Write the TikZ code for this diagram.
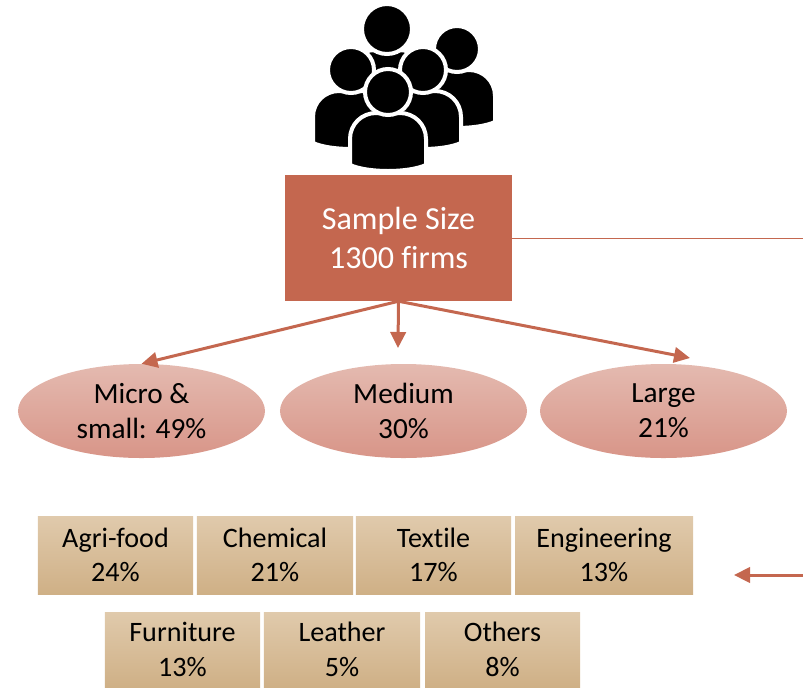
\documentclass[tikz,border=0pt]{standalone}
\usepackage{fontspec}
\setmainfont[Ligatures=NoCommon]{Carlito}
\usetikzlibrary{arrows.meta,shapes.geometric}
\definecolor{rust}{HTML}{C4674F}
\definecolor{ellipsetop}{HTML}{E4BAB0}
\definecolor{ellipsebottom}{HTML}{D89588}
\definecolor{boxtop}{HTML}{E0CAAC}
\definecolor{boxbottom}{HTML}{CFB086}
\tikzset{
	person/.pic={
			\draw[fill=black,draw=white,line width=0.12cm] (-38,73) -- (-38,47) .. controls (-38,32) and (-26,21) .. (-12,21) -- (12,21) .. controls (26,21) and (38,32) .. (38,47) -- (38,73) .. controls (20,81) and (-20,81) .. cycle;
			\draw[fill=black,draw=white,line width=0.12cm] (0,0) circle (#1);
		},
	sizebox/.style={ellipse,minimum width=7.41cm,minimum height=2.82cm,inner sep=0pt,top color=ellipsetop,bottom color=ellipsebottom,align=center,font=\fontsize{25}{30}\selectfont},
	sectorbox/.style={rectangle,minimum height=2.34cm,inner sep=0pt,top color=boxtop,bottom color=boxbottom,align=center,font=\fontsize{24}{29.5}\selectfont},
	thinlink/.style={rust,line width=0.03cm},
	thicklink/.style={rust,line width=0.09cm,-{Triangle[length=0.48cm,width=0.46cm]}}
}
\begin{document}
\begin{tikzpicture}[x=0.03cm,y=-0.03cm]
	\useasboundingbox (0,0) rectangle (803,687);

	\pic at (387,29) {person=25};
	\pic at (457,49) {person=23};
	\pic at (351,70) {person=23};
	\pic at (423,70) {person=23};
	\pic at (388,92) {person=23};

	\node[rectangle,fill=rust,text=white,minimum width=6.81cm,minimum height=3.78cm,inner sep=0pt,align=center,font=\fontsize{27.4}{32.5}\selectfont] (sample) at (398.5,238) {Sample Size\\1300 firms};

	\node[sizebox] (micro) at (141.5,411) {Micro \&\\small: 49\%};
	\node[sizebox] (medium) at (403.5,411) {Medium\\30\%};
	\node[sizebox] (large) at (663.5,411) {Large\\21\%};

	\node[sectorbox,minimum width=4.65cm] (agri) at (115.5,555) {Agri-food\\24\%};
	\node[sectorbox,minimum width=4.68cm] (chemical) at (275,555) {Chemical\\21\%};
	\node[sectorbox,minimum width=4.65cm] (textile) at (433.5,555) {Textile\\17\%};
	\node[sectorbox,minimum width=5.34cm] (engineering) at (604,555) {Engineering\\13\%};

	\node[sectorbox,minimum width=4.65cm,minimum height=2.25cm] (furniture) at (182.5,649.5) {Furniture\\13\%};
	\node[sectorbox,minimum width=4.68cm,minimum height=2.25cm] (leather) at (342,649.5) {Leather\\5\%};
	\node[sectorbox,minimum width=4.65cm,minimum height=2.25cm] (others) at (502.5,649.5) {Others\\8\%};

	\coordinate (mediumtip) at (398,348);
	\coordinate (largetip) at (690,358);
	\coordinate (rightend) at (803,238);
	\coordinate (arrowstart) at (803,575);
	\coordinate (arrowtip) at (734,575);

	\draw[thicklink] (sample.south) -- (micro.north);
	\draw[thicklink] (sample.south) -- (mediumtip);
	\draw[thicklink] (sample.south) -- (largetip);
	\draw[thinlink] (sample.east) -- (rightend);
	\draw[thicklink] (arrowstart) -- (arrowtip);
\end{tikzpicture}
\end{document}
